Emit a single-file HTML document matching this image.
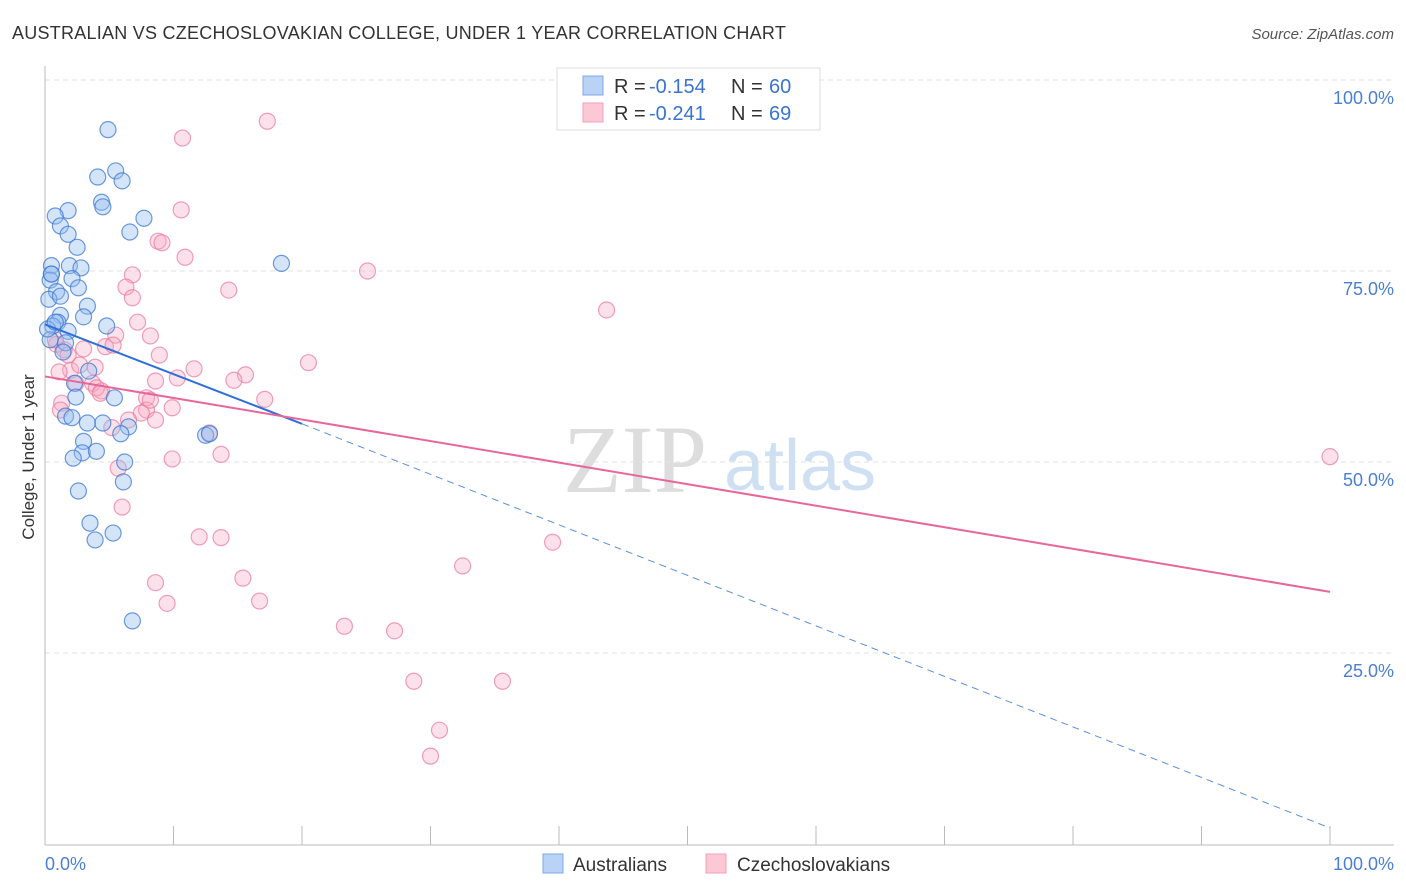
<!DOCTYPE html>
<html><head><meta charset="utf-8">
<style>
body{margin:0;background:#fff;font-family:"Liberation Sans",sans-serif;}
svg{display:block}
</style></head>
<body>
<svg id="chart" width="1406" height="892">
<text x="12" y="39" font-size="18" fill="#333" letter-spacing="0.25">AUSTRALIAN VS CZECHOSLOVAKIAN COLLEGE, UNDER 1 YEAR CORRELATION CHART</text>
<text x="1394" y="39" font-size="15" fill="#555" font-style="italic" text-anchor="end">Source: ZipAtlas.com</text>
<text x="34" y="457" font-size="17" fill="#333" text-anchor="middle" transform="rotate(-90 34 457)">College, Under 1 year</text>
<g>
<text x="635" y="492" font-size="96" fill="#ddd" font-family="Liberation Serif,serif" text-anchor="middle">ZIP</text>
<text x="800" y="490" font-size="72" fill="#cfe0f3" text-anchor="middle">atlas</text>
</g>
<g id="grid"></g>
<g id="pts"></g>
<g id="lines"></g>
<g>
<rect x="557" y="68" width="263" height="62" fill="#fff" stroke="#ddd"/>
<rect x="583" y="76" width="20" height="19" fill="#b8d3f5" stroke="#7fa9e6"/>
<rect x="583" y="103" width="20" height="19" fill="#fcc8d6" stroke="#f0a0b8"/>
<text x="614" y="93" font-size="20" fill="#333">R =</text>
<text x="649" y="93" font-size="20" fill="#3a73d0">-0.154</text>
<text x="731" y="93" font-size="20" fill="#333">N =</text>
<text x="769" y="93" font-size="20" fill="#3a73d0">60</text>
<text x="614" y="120" font-size="20" fill="#333">R =</text>
<text x="649" y="120" font-size="20" fill="#3a73d0">-0.241</text>
<text x="731" y="120" font-size="20" fill="#333">N =</text>
<text x="769" y="120" font-size="20" fill="#3a73d0">69</text>
</g>
<g>
<rect x="543" y="854" width="20" height="19" fill="#b8d3f5" stroke="#7fa9e6"/>
<text x="573" y="871" font-size="19" fill="#333">Australians</text>
<rect x="706" y="854" width="20" height="19" fill="#fcc8d6" stroke="#f0a0b8"/>
<text x="737" y="871" font-size="19" fill="#333">Czechoslovakians</text>
</g>
</svg>
<script>
const xTicks=[0,10,20,30,40,50,60,70,80,90,100];
const yTicks=[25,50,75,100];
const blueLine=[[0,68.0],[20,55.0],[100,2.1]];
const pinkLine=[[0,61.2],[100,33.0]];
const bluePx=[[108,130],[116,171],[122,181],[98,177],[102,202],[103,207],[144,218],[130,232],[68,211],[55,216],[61,226],[68,234],[77,247],[51,266],[52,274],[70,266],[81,268],[50,280],[56,292],[72,279],[79,288],[49,299],[88,306],[83,317],[60,315],[58,322],[53,326],[68,331],[107,326],[50,340],[65,343],[63,352],[89,371],[74,383],[114,398],[76,397],[65,416],[72,418],[88,423],[103,423],[128,427],[121,434],[84,441],[82,453],[96,451],[73,458],[125,462],[123,482],[78,491],[90,523],[95,540],[113,533],[132,621],[281,263],[205,435],[210,434],[48,329],[55,322],[52,274],[60,296]];
const pinkPx=[[267,121],[182,138],[181,210],[158,241],[162,243],[185,257],[367,271],[132,275],[229,290],[126,287],[133,298],[606,310],[137,322],[151,336],[116,335],[106,347],[84,349],[57,344],[64,350],[309,363],[194,369],[95,367],[71,370],[59,372],[246,375],[234,380],[155,381],[177,378],[76,383],[92,383],[101,391],[96,388],[265,399],[147,398],[62,403],[146,410],[172,408],[141,413],[155,420],[128,420],[112,428],[210,433],[221,454],[172,459],[118,468],[1330,457],[122,507],[199,537],[221,538],[553,542],[462,566],[156,583],[243,578],[167,603],[259,601],[345,626],[394,631],[414,681],[503,681],[440,730],[430,756],[55,340],[80,365],[100,393],[150,400],[60,410],[160,355],[68,355],[113,345],[686,78]];
const blueX=bluePx.map(p=>+((p[0]-45)/12.85).toFixed(1)), blueY=bluePx.map(p=>+((844-p[1])/7.64).toFixed(1));
const pinkX=pinkPx.map(p=>+((p[0]-45)/12.85).toFixed(1)), pinkY=pinkPx.map(p=>+((844-p[1])/7.64).toFixed(1));
const X=v=>45+v*12.85, Y=v=>844-v*7.64;
const NS="http://www.w3.org/2000/svg";
function mk(tag,attrs,parent){const e=document.createElementNS(NS,tag);for(const k in attrs)e.setAttribute(k,attrs[k]);parent.appendChild(e);return e;}
const grid=document.getElementById('grid');
yTicks.forEach(t=>{
 const l=mk('line',{x1:45,x2:1394,y1:Y(t),y2:Y(t),stroke:'#e2e2e2','stroke-dasharray':'5,4'},grid);
 
 
 const tx=mk('text',{x:1394,y:Y(t)+24,'font-size':18,fill:'#4a7fd4','text-anchor':'end'},grid);
 tx.textContent=t.toFixed(1)+'%';
 
 
});
mk('line',{x1:45,x2:45,y1:66,y2:845,stroke:'#bbb'},grid);
mk('line',{x1:45,x2:1394,y1:845,y2:845,stroke:'#bbb'},grid);
xTicks.forEach(t=>{
 const l=mk('line',{x1:X(t),x2:X(t),y1:826,y2:845,stroke:'#bbb'},grid);
 
 
});
[[0,'0.0%','start',45],[100,'100.0%','end',1394]].forEach(a=>{
 const tx=mk('text',{x:a[3],y:870,'font-size':18,fill:'#4a7fd4','text-anchor':a[2]},grid);
 tx.textContent=a[1];
 
 
});
const pts=document.getElementById('pts');
pinkX.forEach((v,i)=>{
 const c=mk('circle',{cx:X(v),cy:Y(pinkY[i]),r:8,fill:'rgba(248,170,195,0.35)',stroke:'rgba(232,120,155,0.7)','stroke-width':1.2},pts);
 
 
});
blueX.forEach((v,i)=>{
 const c=mk('circle',{cx:X(v),cy:Y(blueY[i]),r:8,fill:'rgba(150,190,240,0.4)',stroke:'rgba(60,120,210,0.75)','stroke-width':1.2},pts);
 
 
});
const lines=document.getElementById('lines');
const b1=mk('line',{x1:X(blueLine[0][0]),y1:Y(blueLine[0][1]),x2:X(blueLine[1][0]),y2:Y(blueLine[1][1]),stroke:'#2e6fd8','stroke-width':2},lines);


const b2=mk('line',{x1:X(blueLine[1][0]),y1:Y(blueLine[1][1]),x2:X(blueLine[2][0]),y2:Y(blueLine[2][1]),stroke:'#5a8fe0','stroke-width':1,'stroke-dasharray':'7,5'},lines);


const p1=mk('line',{x1:X(pinkLine[0][0]),y1:Y(pinkLine[0][1]),x2:X(pinkLine[1][0]),y2:Y(pinkLine[1][1]),stroke:'#e8679a','stroke-width':2},lines);


</script>
</body></html>
